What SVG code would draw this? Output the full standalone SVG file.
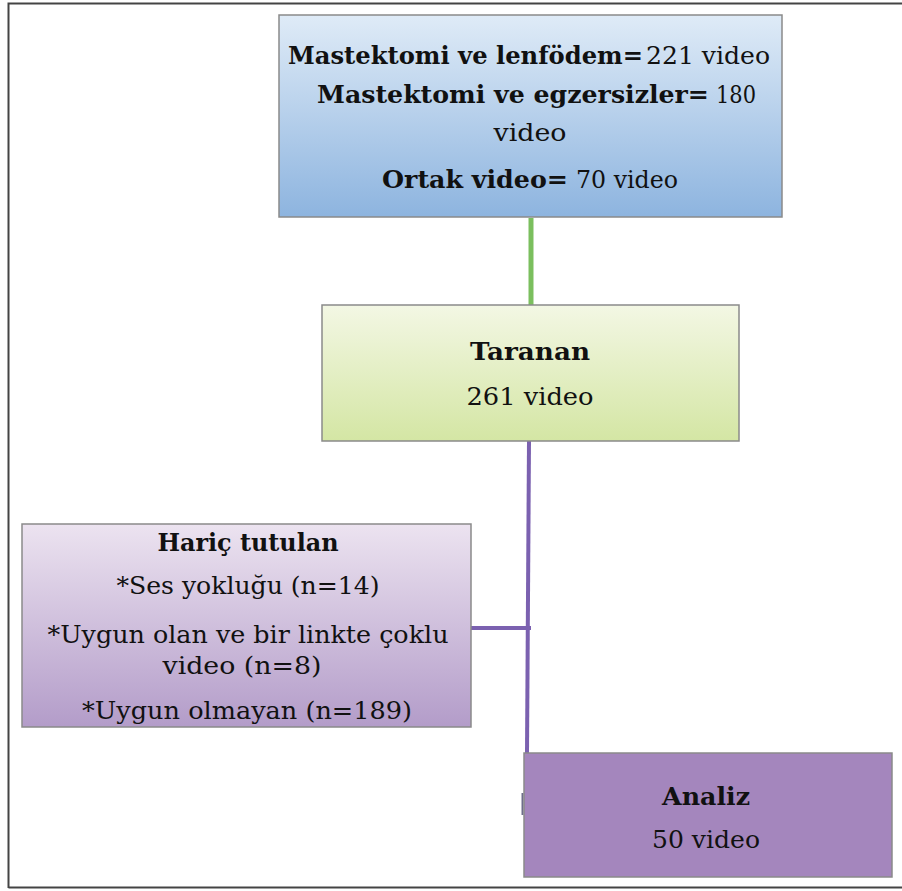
<svg xmlns="http://www.w3.org/2000/svg" width="902" height="891" viewBox="0 0 902 891">
<defs>
<linearGradient id="gBlue" x1="0" y1="0" x2="0" y2="1">
<stop offset="0" stop-color="#dfebf7"/>
<stop offset="1" stop-color="#8db4df"/>
</linearGradient>
<linearGradient id="gGreen" x1="0" y1="0" x2="0" y2="1">
<stop offset="0" stop-color="#f3f7e4"/>
<stop offset="1" stop-color="#d4e6a4"/>
</linearGradient>
<linearGradient id="gPurple" x1="0" y1="0" x2="0" y2="1">
<stop offset="0" stop-color="#ece3f0"/>
<stop offset="1" stop-color="#b39cc9"/>
</linearGradient>
</defs>
<style>
.box{stroke:#8a8a8a;stroke-width:1.5}
text{font-family:"DejaVu Serif","Liberation Serif",serif;font-size:24px;fill:#111;text-anchor:middle}
text.s{text-anchor:start}
.b{font-weight:bold}
</style>
<rect width="902" height="891" fill="#fff"/>
<path d="M8.5,888 V3.5 H902" fill="none" stroke="#444" stroke-width="2"/>
<path d="M8.5,887.5 H902" fill="none" stroke="#444" stroke-width="2"/>
<g id="connectors">
<line x1="531" y1="218" x2="531" y2="305" stroke="#7bbf5e" stroke-width="5"/>
<line x1="529" y1="441" x2="527" y2="753" stroke="#7b61b0" stroke-width="4"/>
<line x1="471" y1="628" x2="531" y2="628" stroke="#7b61b0" stroke-width="4"/>
<line x1="522.5" y1="793" x2="522.5" y2="815" stroke="#6e6e8a" stroke-width="2"/>
</g>
<g id="node-sources">
<rect class="box" x="279" y="15" width="503" height="202" fill="url(#gBlue)"/>
<text class="s b" x="288" y="64" textLength="355" lengthAdjust="spacingAndGlyphs">Mastektomi ve lenfödem=</text>
<text class="s" x="646" y="64" textLength="124" lengthAdjust="spacingAndGlyphs">221 video</text>
<text class="s b" x="317" y="103" textLength="392" lengthAdjust="spacingAndGlyphs">Mastektomi ve egzersizler=</text>
<text class="s" x="716" y="103" textLength="40" lengthAdjust="spacingAndGlyphs">180</text>
<text x="530" y="141" textLength="73" lengthAdjust="spacingAndGlyphs">video</text>
<text class="s b" x="382" y="188" textLength="186" lengthAdjust="spacingAndGlyphs">Ortak video=</text>
<text class="s" x="576" y="188" textLength="102" lengthAdjust="spacingAndGlyphs">70 video</text>
</g>
<g id="node-taranan">
<rect class="box" x="322" y="305" width="417" height="136" fill="url(#gGreen)"/>
<text class="b" x="530" y="360" textLength="120" lengthAdjust="spacingAndGlyphs">Taranan</text>
<text x="530" y="405" textLength="127" lengthAdjust="spacingAndGlyphs">261 video</text>
</g>
<g id="node-haric">
<rect class="box" x="22" y="524" width="449" height="203" fill="url(#gPurple)"/>
<text class="b" x="248" y="551" textLength="181" lengthAdjust="spacingAndGlyphs">Hariç tutulan</text>
<text x="248" y="594" textLength="263" lengthAdjust="spacingAndGlyphs">*Ses yokluğu (n=14)</text>
<text x="248" y="643" textLength="401" lengthAdjust="spacingAndGlyphs">*Uygun olan ve bir linkte çoklu</text>
<text x="242" y="674" textLength="159" lengthAdjust="spacingAndGlyphs">video (n=8)</text>
<text x="247" y="719" textLength="330" lengthAdjust="spacingAndGlyphs">*Uygun olmayan (n=189)</text>
</g>
<g id="node-analiz">
<rect class="box" x="524" y="753" width="368" height="124" fill="#a486bd"/>
<text class="b" x="706" y="805" textLength="88" lengthAdjust="spacingAndGlyphs">Analiz</text>
<text x="706" y="848" textLength="108" lengthAdjust="spacingAndGlyphs">50 video</text>
</g>
</svg>
